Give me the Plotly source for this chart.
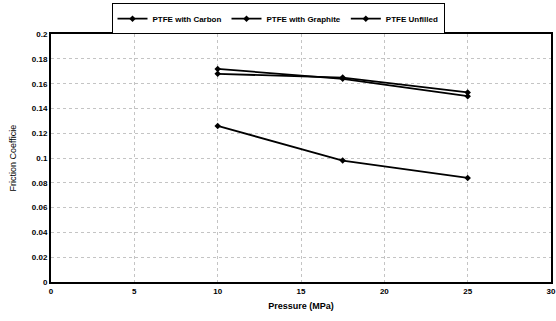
import plotly.graph_objects as go

pressure = [10, 17.5, 25]
carbon = [0.168, 0.165, 0.153]
graphite = [0.126, 0.098, 0.084]
unfilled = [0.172, 0.164, 0.150]

x_ticks = [0, 5, 10, 15, 20, 25, 30]
y_ticks = [0, 0.02, 0.04, 0.06, 0.08, 0.1, 0.12, 0.14, 0.16, 0.18, 0.2]

series = [("PTFE with Carbon", carbon), ("PTFE with Graphite", graphite), ("PTFE Unfilled", unfilled)]

fig = go.Figure()
for name, vals in series:
    fig.add_trace(go.Scatter(
        x=pressure, y=vals, name=name, mode="lines+markers",
        line=dict(color="black", width=1.8),
        marker=dict(symbol="diamond", size=5, color="black"),
    ))

font = dict(family="Liberation Sans, Arial, sans-serif", size=8, color="black", weight="bold")

fig.update_layout(
    width=556, height=321,
    margin=dict(l=51, r=5, t=34, b=39),
    paper_bgcolor="white", plot_bgcolor="white",
    font=font,
    showlegend=True,
    legend=dict(
        orientation="h", x=0.5, xanchor="center", y=0.99, yanchor="top",
        yref="container", xref="container", bordercolor="black", borderwidth=1,
        font=dict(family="Liberation Sans, Arial, sans-serif", size=8, color="black", weight="bold"),
        itemwidth=30, tracegroupgap=0,
    ),
    xaxis=dict(
        range=[0, 30], tickvals=x_ticks, ticktext=[str(v) for v in x_ticks],
        showline=True, linecolor="black", linewidth=2, mirror=True,
        showgrid=True, gridcolor="#c4c4c4", griddash="dot", gridwidth=1,
        ticks="", zeroline=False, automargin=False,
        title=dict(text="Pressure (MPa)", standoff=8, font=dict(size=9)),
    ),
    yaxis=dict(
        range=[0, 0.2], tickvals=y_ticks, ticktext=["0" if v == 0 else f"{v:g}" for v in y_ticks],
        showline=True, linecolor="black", linewidth=2, mirror=True,
        showgrid=True, gridcolor="#c4c4c4", griddash="dot", gridwidth=1,
        ticks="", zeroline=False, automargin=False,
        title=dict(text="Friction Coefficie", standoff=14, font=dict(size=9, weight="normal")),
    ),
)

fig.write_html(
    "out.html",
    config={"displayModeBar": False},
    post_script="document.body.style.margin='0';document.documentElement.style.overflow='hidden';",
)
